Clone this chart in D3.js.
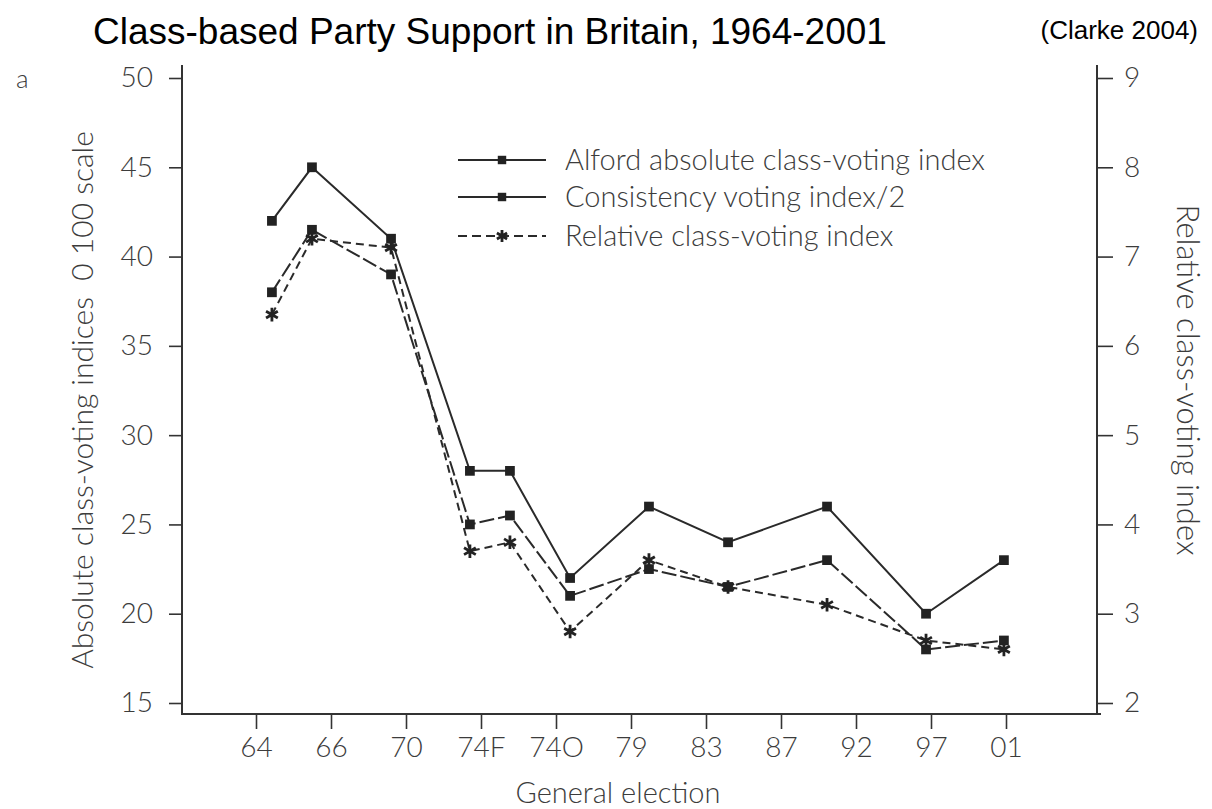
<!DOCTYPE html>
<html>
<head>
<meta charset="utf-8">
<script src="https://cdn.jsdelivr.net/npm/d3@7"></script>
<style>
  html, body { margin: 0; padding: 0; background: #fff; }
  svg { display: block; }
  .lbl { font-family: Lato, "Open Sans", sans-serif; font-weight: 300; fill: #3c3c3c; }
</style>
</head>
<body>
<svg id="chart" width="1212" height="809"></svg>
<script>
// General elections shown on the horizontal axis
const elections = ["64", "66", "70", "74F", "74O", "79", "83", "87", "92", "97", "01"];
// Where each election's marks sit along the time scale (years)
const electionYears = [1964.16, 1966.19, 1970.2, 1974.2, 1976.23, 1979.28, 1983.28, 1987.29, 1992.31, 1997.33, 2001.28];

// Alford absolute class-voting index (left axis)
const alford = [42, 45, 41, 28, 28, 22, 26, 24, 26, 20, 23];
// Consistency voting index / 2 (left axis)
const consistency = [38, 41.5, 39, 25, 25.5, 21, 22.5, 21.5, 23, 18, 18.5];
// Relative class-voting index (right axis)
const relative = [6.35, 7.2, 7.1, 3.7, 3.8, 2.8, 3.6, 3.3, 3.1, 2.7, 2.6];

const leftTicks = [15, 20, 25, 30, 35, 40, 45, 50];
const rightTicks = [2, 3, 4, 5, 6, 7, 8, 9];

const svg = d3.select("#chart");
const L = 182, R = 1097, T = 78, B = 703, axisY = 714, axisTop = 65;

const yLeft = d3.scaleLinear().domain([15, 50]).range([B, T]);
const yRight = d3.scaleLinear().domain([2, 9]).range([B, T]);
const xTime = d3.scaleLinear().domain([1959.6, 2006]).range([L, R]);
const xTick = d3.scalePoint().domain(elections).range([L + 74, L + 824]);

// Title and source
svg.append("text").attr("x", 93).attr("y", 44)
  .style("font-family", "'Liberation Sans', Arial, sans-serif").style("font-size", "37px")
  .text("Class-based Party Support in Britain, 1964-2001");
svg.append("text").attr("x", 1198).attr("y", 39).attr("text-anchor", "end")
  .style("font-family", "'Liberation Sans', Arial, sans-serif").style("font-size", "26px")
  .text("(Clarke 2004)");

// Panel letter
svg.append("text").attr("class", "lbl").attr("x", 16).attr("y", 88)
  .style("font-size", "26px").text("a");

const axisColor = "#333";

// Axis frame lines
svg.append("line").attr("x1", L).attr("x2", L).attr("y1", axisTop).attr("y2", axisY)
  .attr("stroke", axisColor).attr("stroke-width", 2);
svg.append("line").attr("x1", R).attr("x2", R).attr("y1", axisTop).attr("y2", axisY)
  .attr("stroke", axisColor).attr("stroke-width", 2);
svg.append("line").attr("x1", L - 1).attr("x2", R + 4).attr("y1", axisY).attr("y2", axisY)
  .attr("stroke", axisColor).attr("stroke-width", 2);

function styleAxis(g) {
  g.select(".domain").remove();
  g.selectAll(".tick line").attr("stroke", axisColor).attr("stroke-width", 1.6);
  g.selectAll(".tick text").attr("class", "lbl").style("font-size", "28px")
    .attr("fill", null);
}

svg.append("g").attr("transform", `translate(${L},0)`)
  .call(d3.axisLeft(yLeft).tickValues(leftTicks).tickSize(13).tickPadding(16))
  .call(styleAxis);

svg.append("g").attr("transform", `translate(${R},0)`)
  .call(d3.axisRight(yRight).tickValues(rightTicks).tickFormat(d3.format("d"))
    .tickSize(16).tickPadding(11))
  .call(styleAxis);

svg.append("g").attr("transform", `translate(0,${axisY})`)
  .call(d3.axisBottom(xTick).tickSize(15).tickPadding(8))
  .call(styleAxis);

// Axis titles
svg.append("text").attr("class", "lbl")
  .attr("transform", `translate(93,400) rotate(-90)`)
  .attr("text-anchor", "middle").style("font-size", "30px").style("white-space", "pre")
  .text("Absolute class-voting indices  0 100 scale");
svg.append("text").attr("class", "lbl")
  .attr("transform", `translate(1177,380) rotate(90)`)
  .attr("text-anchor", "middle").style("font-size", "31px")
  .text("Relative class-voting index");
svg.append("text").attr("class", "lbl")
  .attr("x", 618).attr("y", 803)
  .attr("text-anchor", "middle").style("font-size", "29px")
  .text("General election");

// Series
const lineColor = "#2a2a2a";
const series = [
  { name: "Alford absolute class-voting index", values: alford, y: yLeft, dash: null, marker: "square" },
  { name: "Consistency voting index/2", values: consistency, y: yLeft, dash: "15,4", marker: "square" },
  { name: "Relative class-voting index", values: relative, y: yRight, dash: "8,5", marker: "star" }
];

const plot = svg.append("g");
series.forEach(s => {
  const pts = s.values.map((v, i) => [xTime(electionYears[i]), s.y(v)]);
  plot.append("path")
    .attr("d", d3.line()(pts))
    .attr("fill", "none").attr("stroke", lineColor).attr("stroke-width", 2)
    .attr("stroke-dasharray", s.dash);
  drawMarkers(plot, pts, s.marker, 1);
});

function drawMarkers(g, pts, kind, k) {
  pts.forEach(p => {
    if (kind === "square") {
      g.append("path").attr("transform", `translate(${p[0]},${p[1]})`)
        .attr("d", d3.symbol(d3.symbolSquare, 95 * k)())
        .attr("fill", "#222");
    } else {
      g.append("path").attr("transform", `translate(${p[0]},${p[1]})`)
        .attr("d", d3.symbol(d3.symbolAsterisk, 130 * k)())
        .attr("fill", "none").attr("stroke", "#222").attr("stroke-width", 2.8);
    }
  });
}

// Legend
const legend = svg.append("g");
const legendRows = [160, 197, 236];
const legendDash = [null, null, "9,5"];
series.forEach((s, i) => {
  const y = legendRows[i];
  legend.append("line").attr("x1", 458).attr("x2", 546).attr("y1", y).attr("y2", y)
    .attr("stroke", lineColor).attr("stroke-width", 2).attr("stroke-dasharray", legendDash[i]);
  drawMarkers(legend, [[502, y]], s.marker, 0.75);
  legend.append("text").attr("class", "lbl").attr("x", 565).attr("y", y + 10)
    .style("font-size", "29px").text(s.name);
});
</script>
</body>
</html>
